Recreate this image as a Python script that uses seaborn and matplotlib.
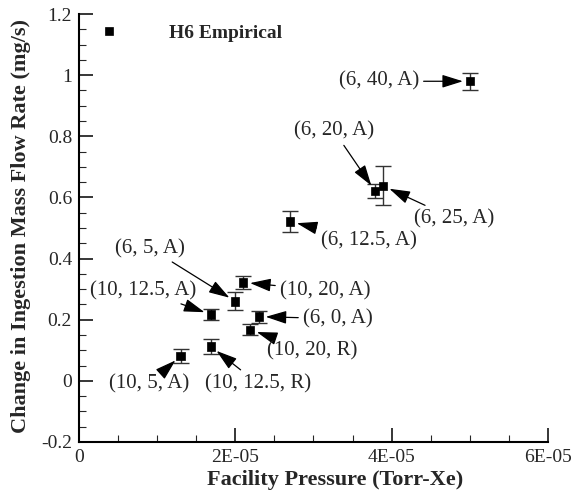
import matplotlib
matplotlib.use("Agg")
import matplotlib.pyplot as plt
import seaborn as sns
import pandas as pd
from matplotlib.ticker import MultipleLocator

# ---- data ----
labels = ["(6, 40, A)", "(6, 20, A)", "(6, 25, A)", "(6, 12.5, A)", "(6, 5, A)",
          "(10, 20, A)", "(10, 12.5, A)", "(6, 0, A)", "(10, 20, R)",
          "(10, 12.5, R)", "(10, 5, A)"]
pressure = [5.00e-5, 3.79e-5, 3.89e-5, 2.70e-5, 2.00e-5,
            2.10e-5, 1.69e-5, 2.30e-5, 2.19e-5, 1.69e-5, 1.30e-5]
flow = [0.98, 0.62, 0.638, 0.521, 0.26, 0.322, 0.217, 0.21, 0.167, 0.112, 0.082]
err = [0.028, 0.023, 0.064, 0.035, 0.029, 0.022, 0.018, 0.02, 0.018, 0.024, 0.023]
# label offsets (pixels) relative to each point: layout only
offsets = [(-91, 0), (-41, 60), (71, -33), (79, -19), (-85, 53),
           (82, -8), (-68, 24), (79, -2), (62, -21), (47, -37), (-31, -28)]
series_name = "H6 Empirical"

df = pd.DataFrame({"pressure": pressure, "flow": flow, "err": err,
                   "label": labels, "series": series_name})

sns.set_style("ticks")
plt.rcParams["font.family"] = ["Liberation Serif", "DejaVu Serif"]

fig = plt.figure(figsize=(5.74, 4.97), dpi=100)
ax = fig.add_axes([0.1376, 0.1107, 0.8171, 0.8611])

ax.errorbar(df["pressure"], df["flow"], yerr=df["err"], fmt="none",
            ecolor="#333333", elinewidth=1.0, capsize=5.5, capthick=1.0, zorder=2)
sns.scatterplot(data=df, x="pressure", y="flow", hue="series",
                palette=["black"], marker="s", s=36, edgecolor="black",
                linewidth=0.5, ax=ax, zorder=3)

for lab, x, y, off in zip(labels, pressure, flow, offsets):
    ax.annotate(lab, xy=(x, y), xytext=off, textcoords="offset pixels",
                ha="center", va="center", fontsize=15,
                arrowprops=dict(arrowstyle="-|>,head_length=0.8,head_width=0.25",
                                color="black", lw=0.9,
                                mutation_scale=16, shrinkA=1, shrinkB=5))

ax.set_xlim(0, 6e-5)
ax.set_ylim(-0.2, 1.2)
ax.xaxis.set_major_locator(MultipleLocator(2e-5))
ax.xaxis.set_minor_locator(MultipleLocator(0.5e-5))
ax.yaxis.set_major_locator(MultipleLocator(0.2))
ax.yaxis.set_minor_locator(MultipleLocator(0.05))

ax.xaxis.set_major_formatter(plt.FuncFormatter(lambda v, p: "0" if abs(v) < 1e-12 else f"{v*1e5:.0f}E-05"))
ax.yaxis.set_major_formatter(plt.FuncFormatter(lambda v, p: f"{v:g}" if abs(v) > 1e-9 else "0"))

ax.tick_params(which="major", direction="in", length=10, width=1.3, labelsize=14, pad=5)
ax.tick_params(which="minor", direction="in", length=5, width=0.8)
for s in ["top", "right"]:
    ax.spines[s].set_visible(False)
for s in ["left", "bottom"]:
    ax.spines[s].set_linewidth(1.5)
    ax.spines[s].set_color("black")

ax.set_xlabel("Facility Pressure (Torr-Xe)", fontsize=16, fontweight="bold")
ax.set_ylabel("Change in Ingestion Mass Flow Rate (mg/s)", fontsize=16, fontweight="bold")
ax.xaxis.set_label_coords(0.546, -0.066)
ax.yaxis.set_label_coords(-0.102, 0.505)

leg = ax.legend(loc="center left", bbox_to_anchor=(0.026, 0.956), frameon=False,
                borderaxespad=0, handletextpad=2.6, handlelength=1.0, markerscale=0.9,
                prop={"weight": "bold", "size": 14, "family": ["Liberation Serif"]})

fig.savefig("out.png", dpi=100)
